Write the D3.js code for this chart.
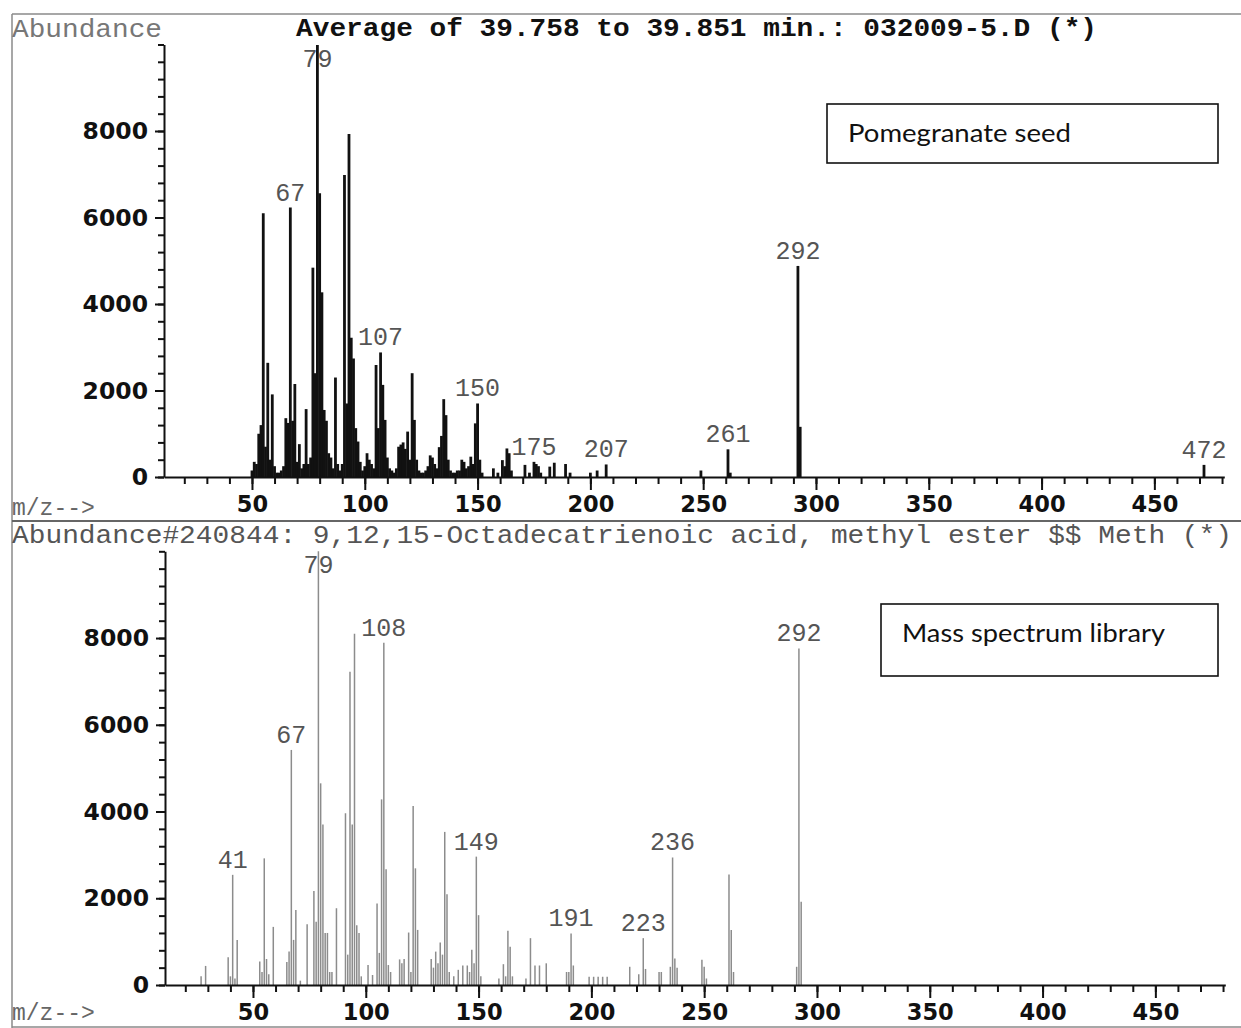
<!DOCTYPE html>
<html><head><meta charset="utf-8">
<script src="https://cdn.jsdelivr.net/npm/d3@7/dist/d3.min.js"></script>
<style>body{margin:0;background:#fff}svg{display:block}</style>
</head><body>
<svg id="c" width="1241" height="1028"></svg>
<script>
// ---------- data ----------
const topMz = [50,51,52,53,54,55,56,57,58,59,60,61,62,63,64,65,66,67,68,69,70,71,72,73,74,75,76,77,78,79,80,81,82,83,84,85,86,87,88,89,90,91,92,93,94,95,96,97,98,99,100,101,102,103,104,105,106,107,108,109,110,111,112,113,114,115,116,117,118,119,120,121,122,123,124,125,126,127,128,129,130,131,132,133,134,135,136,137,138,139,140,141,142,143,144,145,146,147,148,149,150,151,152,157,159,161,162,163,164,165,171,173,175,176,177,178,182,184,189,191,200,203,207,249,261,262,292,293,472];
const topAbund = [150,350,300,1000,1200,6100,700,2640,400,1910,250,100,100,150,250,1360,1250,6230,1300,2150,350,760,200,300,1570,300,450,4840,2400,9990,6560,4270,1550,1300,550,450,200,2300,300,150,300,6980,1700,7930,3220,2740,1130,820,350,150,250,550,400,300,200,2590,1130,2880,2130,1320,450,200,150,100,200,700,750,800,650,1050,400,2400,1320,400,150,100,100,150,250,500,450,300,200,690,950,1800,1430,400,150,100,100,150,150,400,350,200,250,470,300,1240,1700,400,100,200,100,390,250,660,550,150,280,100,350,300,250,100,240,330,300,100,100,150,290,150,640,100,4880,1160,280];

const libMz = [27,29,39,40,41,42,43,53,54,55,56,57,59,65,66,67,68,69,71,74,77,78,79,80,81,82,83,84,85,87,91,92,93,94,95,96,97,98,101,103,105,106,107,108,109,110,111,115,116,117,119,120,121,122,123,129,130,131,132,133,134,135,136,137,139,141,143,145,146,147,148,149,150,151,159,161,162,163,164,165,171,173,175,177,180,189,190,191,192,199,201,203,205,207,217,221,223,224,230,231,235,236,237,238,249,250,251,261,262,263,291,292,293];
const libAbund = [200,440,640,200,2540,150,1040,540,300,2920,600,250,1340,530,770,5420,1040,1730,100,1400,2170,1460,9999,4650,3700,1200,1200,300,300,1770,3960,700,7220,3700,8100,1380,1200,200,460,230,1880,740,4280,7890,2670,460,300,590,500,600,1210,300,4130,2690,1270,600,400,770,500,980,700,3530,2090,300,200,350,450,450,300,810,500,2960,1610,200,150,480,200,1250,880,200,150,1080,450,450,500,300,300,1190,450,190,190,190,190,190,420,250,1080,370,300,300,420,2940,610,400,580,420,150,2550,1270,300,420,7760,1920];

const topLabelMz = [79,67,107,150,175,207,261,292,472];
const libLabelMz = [79,41,67,108,149,191,223,236,292];

const yMajorTicks = [0,2000,4000,6000,8000];
const xMajorTicks = [50,100,150,200,250,300,350,400,450];

const topHeader = "Abundance";
const topTitle = "Average of 39.758 to 39.851 min.: 032009-5.D (*)";
const libHeader = "Abundance#240844: 9,12,15-Octadecatrienoic acid, methyl ester $$ Meth (*)";
const xAxisName = "m/z-->";
const topLegend = "Pomegranate seed";
const libLegend = "Mass spectrum library";

// ---------- drawing ----------
const svg = d3.select("#c");
svg.append("rect").attr("width",1241).attr("height",1028).attr("fill","#fff");

const mono = "'Liberation Mono','DejaVu Sans Mono',monospace";
const tickFont = "'DejaVu Sans',sans-serif";

// frame
const frame = svg.append("g").attr("stroke","#8a8a8a").attr("stroke-width",1.5).attr("fill","none");
frame.append("line").attr("x1",12).attr("x2",1241).attr("y1",14).attr("y2",14);
frame.append("line").attr("x1",12).attr("x2",12).attr("y1",14).attr("y2",1028);
frame.append("line").attr("x1",12).attr("x2",1241).attr("y1",521).attr("y2",521).attr("stroke","#666").attr("stroke-width",2);
frame.append("line").attr("x1",12).attr("x2",1241).attr("y1",1027).attr("y2",1027);

const xMinor = d3.range(20, 481, 10);
const yMinor = d3.range(0, 10001, 400);

function panel(opt){
  const g = svg.append("g");
  const x = d3.scaleLinear().domain([11,481]).range([164 + opt.dx, 1224.3 + opt.dx]);
  const y = d3.scaleLinear().domain([0,10000]).range([opt.y0, opt.yTop]);

  // peak labels (under the lines)
  const lookup = new Map(opt.mz.map((m,i)=>[m,opt.ab[i]]));
  g.append("g").selectAll("text").data(opt.labels).join("text")
    .attr("x", d=>x(d))
    .attr("y", d=>Math.max(y(lookup.get(d)) - 7, opt.yTop + 22))
    .attr("text-anchor","middle")
    .attr("font-family", mono).attr("font-size", 25).attr("fill","#555")
    .text(d=>d);

  // peaks
  g.append("g").selectAll("line").data(opt.mz.map((m,i)=>({m, v:opt.ab[i]}))).join("line")
    .attr("x1", d=>x(d.m)).attr("x2", d=>x(d.m))
    .attr("y1", y(0)).attr("y2", d=>y(d.v))
    .attr("stroke", opt.color).attr("stroke-width", opt.width);

  // x axis
  const xa1 = g.append("g").attr("transform",`translate(0,${opt.y0})`)
    .call(d3.axisBottom(x).tickValues(xMinor).tickSize(7).tickSizeOuter(0).tickFormat(""));
  const xa2 = g.append("g").attr("transform",`translate(0,${opt.y0})`)
    .call(d3.axisBottom(x).tickValues(xMajorTicks).tickSize(13).tickSizeOuter(0).tickPadding(6));
  [xa1,xa2].forEach(a=>{a.selectAll("path,line").attr("stroke","#111").attr("stroke-width",2);});
  xa2.select(".domain").remove();
  xa2.selectAll("text").attr("font-family",tickFont).attr("font-weight","bold")
    .attr("font-size",22.5).attr("fill","#111");

  // y axis
  const ya1 = g.append("g").attr("transform",`translate(${164 + opt.dx},0)`)
    .call(d3.axisLeft(y).tickValues(yMinor).tickSize(6).tickSizeOuter(0).tickFormat(""));
  const ya2 = g.append("g").attr("transform",`translate(${164 + opt.dx},0)`)
    .call(d3.axisLeft(y).tickValues(yMajorTicks).tickSize(9).tickSizeOuter(0).tickPadding(7).tickFormat(d3.format("d")));
  [ya1,ya2].forEach(a=>{a.selectAll("path,line").attr("stroke","#111").attr("stroke-width",2);});
  ya2.select(".domain").remove();
  ya2.selectAll("text").attr("font-family",tickFont).attr("font-weight","bold")
    .attr("font-size",23.5).attr("fill","#111");

  // axis name
  g.append("text").attr("x",12).attr("y",opt.y0 + opt.nameDy)
    .attr("font-family",mono).attr("font-size",23).attr("fill","#666").text(xAxisName);

  // legend box
  g.append("rect").attr("x",opt.box[0]).attr("y",opt.box[1]).attr("width",opt.box[2]).attr("height",opt.box[3])
    .attr("fill","#fff").attr("stroke","#111").attr("stroke-width",1.6);
  g.append("text").attr("x",opt.box[0]+21).attr("y",opt.box[1]+opt.box[4])
    .attr("font-family","Lato,'Open Sans',sans-serif").attr("font-size",25).attr("fill","#111")
    .attr("textLength",opt.box[5]).attr("lengthAdjust","spacingAndGlyphs")
    .text(opt.legend);
  return g;
}

panel({mz:topMz, ab:topAbund, labels:topLabelMz, y0:477, yTop:44.5, dx:0, nameDy:38,
       color:"#111", width:2.8, legend:topLegend, box:[827,104,391,59,38,223]});
panel({mz:libMz, ab:libAbund, labels:libLabelMz, y0:985, yTop:551.3, dx:1, nameDy:35,
       color:"#8c8c8c", width:1.5, legend:libLegend, box:[881,604,337,72,38,263]});

// headers
svg.append("text").attr("x",12).attr("y",37).attr("font-family",mono).attr("font-size",26)
  .attr("fill","#777").attr("textLength",150).attr("lengthAdjust","spacingAndGlyphs").text(topHeader);
svg.append("text").attr("x",296).attr("y",36).attr("font-family",mono).attr("font-size",26)
  .attr("font-weight","bold").attr("fill","#111").attr("textLength",801).attr("lengthAdjust","spacingAndGlyphs").text(topTitle);
svg.append("text").attr("x",12).attr("y",543).attr("font-family",mono).attr("font-size",26)
  .attr("fill","#555").attr("textLength",1220).attr("lengthAdjust","spacingAndGlyphs").text(libHeader);
</script>
</body></html>
